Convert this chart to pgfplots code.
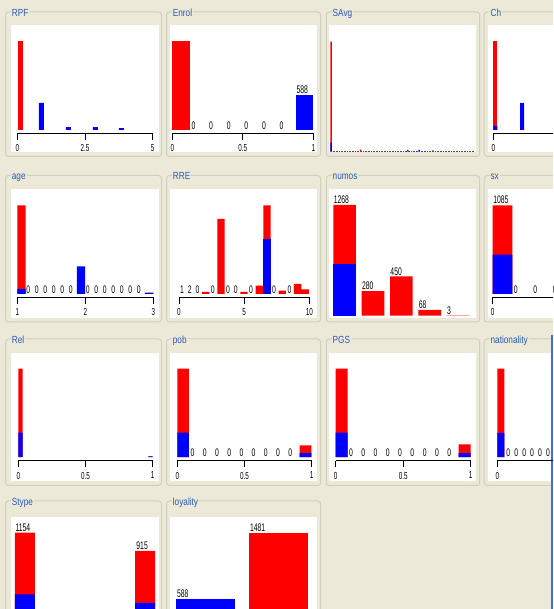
\documentclass[border=0pt]{standalone}
\usepackage{pgfplots}
\pgfplotsset{compat=1.18}
\usepackage{fontspec}
\setmainfont{Liberation Sans}
\newfontfamily\wkfont[FakeStretch=0.62]{Liberation Sans}
\newfontfamily\wtfont[FakeStretch=0.8]{Liberation Sans}
\newcommand\tkfont{\wkfont\fontsize{10.2}{10}\selectfont}
\newcommand\cnfont{\wkfont\fontsize{11}{11}\selectfont}
\newcommand\ttlfont{\wtfont\fontsize{10.3}{10}\selectfont}
\definecolor{wbg}{HTML}{ECE9D8}
\definecolor{wframe}{HTML}{D0D0BF}
\definecolor{wtitle}{HTML}{2A5AB5}
\definecolor{wred}{HTML}{FF0000}
\definecolor{wblue}{HTML}{0000FF}
\definecolor{wdot}{HTML}{5A3C8C}
\definecolor{wstripe}{HTML}{3C6EE6}
\pgfplotsset{
  numpanel/.style={scale only axis, clip=false, anchor=south west, height=92pt,
    axis y line=none, axis x line=bottom,
    x axis line style={-, line width=1.1pt, black},
    tick align=outside, major tick length=6.5pt,
    tick style={black, line width=0.8pt},
    xticklabel style={font=\tkfont, inner sep=1pt, yshift=-3.5pt},
    /pgf/number format/assume math mode=true,
    ytick=\empty},
  nompanel/.style={scale only axis, clip=false, anchor=south west, hide axis, ymin=0},
  rbar/.style={ybar, bar shift=0pt, bar width=#1, fill=wred, draw=none},
  bbar/.style={ybar, bar shift=0pt, bar width=#1, fill=wblue, draw=none},
  lbl/.style={draw=none, mark=none, nodes near coords={\pgfplotspointmeta},
    point meta=explicit symbolic,
    every node near coord/.style={font=\cnfont, anchor=south west, inner sep=0pt, text=black, yshift=#1}},
  lbl/.default=0pt,
}
\tikzset{ttl/.style={anchor=base west, fill=wbg, inner sep=1pt, text=wtitle, font=\ttlfont}}
\begin{document}
\begin{tikzpicture}
\useasboundingbox (0pt,0pt) rectangle (553pt,609pt);
\clip (0pt,0pt) rectangle (553pt,609pt);
\begin{scope}[x=1pt,y=1pt]
\fill[wbg] (0,0) rectangle (553,609);
% frames
\foreach \xa/\xb in {5.5/161.5,166.5/320.7,326.3/479.7,484.2/640}{
  \foreach \ya/\yb in {452.5/597,287/433.5,123.5/270}{
    \draw[wframe,line width=1pt,rounded corners=3pt] (\xa,\ya) rectangle (\xb,\yb);}}
\foreach \xa/\xb in {5.5/161.5,166.5/320.7}{
  \draw[wframe,line width=1pt,rounded corners=3pt] (\xa,-51) rectangle (\xb,108);}
% white plot areas
\foreach \xa/\xb in {11/159,170/317,329.3/476,488.3/640}{
  \foreach \ya/\yb in {457/584,290.7/419.5,128/255.7}{
    \fill[white] (\xa,\ya) rectangle (\xb,\yb);}}
\foreach \xa/\xb in {11/159,170/317}{\fill[white] (\xa,-41) rectangle (\xb,92.3);}
% titles
\node[ttl] at (10.7,592.5) {RPF};
\node[ttl] at (171.7,592.5) {Enrol};
\node[ttl] at (331.5,592.5) {SAvg};
\node[ttl] at (489.4,592.5) {Ch};
\node[ttl] at (10.7,429) {age};
\node[ttl] at (171.7,429) {RRE};
\node[ttl] at (331.5,429) {numos};
\node[ttl] at (489.4,429) {sx};
\node[ttl] at (10.7,265.5) {Rel};
\node[ttl] at (171.7,265.5) {pob};
\node[ttl] at (331.5,265.5) {PGS};
\node[ttl] at (489.4,265.5) {nationality};
\node[ttl] at (10.7,103.5) {Stype};
\node[ttl] at (171.7,103.5) {loyality};
\fill[wstripe] (551,0) rectangle (553,274);
\end{scope}

% RPF
\begin{axis}[numpanel, at={(17.3pt,475.5pt)}, width=135.4pt, xmin=0, xmax=5, xtick={0,2.5,5}, ymin=-58.6, ymax=1481]
\addplot[rbar=0.185] coordinates {(0.107,1481)};
\addplot[bbar=0.185] coordinates {(0.893,455) (1.89,50) (2.88,50) (3.845,33)};
\end{axis}
% Enrol
\begin{axis}[numpanel, at={(172.3pt,475.5pt)}, width=141pt, xmin=0, xmax=1, xtick={0,0.5,1}, ymin=-58.6, ymax=1481]
\addplot[rbar=0.125] coordinates {(0.0625,1481)};
\addplot[bbar=0.125] coordinates {(0.9375,588)};
\addplot[lbl] coordinates {(0.135,0)[0] (0.26,0)[0] (0.385,0)[0] (0.51,0)[0] (0.635,0)[0] (0.76,0)[0]};
\addplot[lbl=1pt] coordinates {(0.88,588)[588]};
\end{axis}
% SAvg
\begin{axis}[nompanel, at={(330pt,457.3pt)}, width=146pt, height=110pt, xmin=0, xmax=100, ymax=1940]
\addplot[rbar=1.0] coordinates {(0.7,1940) (21,36) (53.4,30) (70.5,25)};
\addplot[bbar=1.0] coordinates {(0.7,160) (61,30)};
\addplot[wdot, densely dotted, line width=0.6pt] coordinates {(0.7,0) (99,0)};
\end{axis}
% Ch
\begin{axis}[numpanel, at={(493.3pt,475.5pt)}, width=135.4pt, xmin=0, xmax=5, xtick={0,2.5,5}, ymin=-58.6, ymax=1481]
\addplot[rbar=0.148] coordinates {(0.074,1481)};
\addplot[bbar=0.148] coordinates {(0.074,67) (1.06,455)};
\end{axis}
% age
\begin{axis}[numpanel, at={(17.3pt,311.7pt)}, width=136pt, xmin=1, xmax=3, xtick={1,2,3}, ymin=-61.8, ymax=1563]
\addplot[rbar=0.1235] coordinates {(1.0625,1563) (2.9375,21)};
\addplot[bbar=0.1235] coordinates {(1.0625,85) (1.9375,485) (2.9375,18)};
\addplot[lbl] coordinates {(1.131,0)[0] (1.256,0)[0] (1.381,0)[0] (1.506,0)[0] (1.631,0)[0] (1.756,0)[0] (2.006,0)[0] (2.131,0)[0] (2.256,0)[0] (2.381,0)[0] (2.506,0)[0] (2.631,0)[0] (2.756,0)[0]};
\end{axis}
% RRE
\begin{axis}[numpanel, at={(179pt,311.7pt)}, width=130.3pt, xmin=0, xmax=10, xtick={0,5,10}, ymin=-37.3, ymax=944]
\addplot[rbar=0.56] coordinates {(2.045,20) (3.221,800) (4.986,20) (6.162,88) (6.750,944) (7.927,35) (9.104,107) (9.692,46)};
\addplot[bbar=0.56] coordinates {(6.750,580)};
\addplot[lbl] coordinates {(0.08,0)[1] (0.668,0)[2] (1.256,0)[0] (2.433,0)[0] (3.609,0)[0] (4.197,0)[0] (5.374,0)[0] (7.138,0)[0] (8.315,0)[0]};
\end{axis}
% numos
\begin{axis}[nompanel, at={(329.5pt,293.3pt)}, width=146.5pt, height=110.7pt, xmin=-0.534, xmax=4.634, ymax=1268]
\addplot[rbar=0.8] coordinates {(0,1268) (1,280) (2,450) (3,68) (4,3)};
\addplot[bbar=0.8] coordinates {(0,588)};
\addplot[lbl=1pt] coordinates {(-0.39,1268)[1268] (0.61,280)[280] (1.61,450)[450] (2.61,68)[68] (3.61,3)[3]};
\end{axis}
% sx
\begin{axis}[numpanel, at={(492.7pt,311.7pt)}, width=136pt, xmin=0, xmax=1, xtick={0,0.5,1}, ymin=-42.9, ymax=1085]
\addplot[rbar=0.144] coordinates {(0.072,1085) (0.929,984)};
\addplot[bbar=0.144] coordinates {(0.072,479) (0.929,109)};
\addplot[lbl] coordinates {(0.155,0)[0] (0.298,0)[0] (0.441,0)[0] (0.583,0)[0] (0.726,0)[0]};
\addplot[lbl=1pt] coordinates {(0.003,1085)[1085] (0.86,984)[984]};
\end{axis}
% Rel
\begin{axis}[numpanel, at={(18.3pt,148.3pt)}, width=134.4pt, xmin=0, xmax=1, xtick={0,0.5,1}, ymin=-81, ymax=2048]
\addplot[rbar=0.0327] coordinates {(0.0164,2048) (0.9836,21)};
\addplot[bbar=0.0327] coordinates {(0.0164,570) (0.9836,18)};
\end{axis}
% pob
\begin{axis}[numpanel, at={(177.3pt,148.3pt)}, width=134.4pt, xmin=0, xmax=1, xtick={0,0.5,1}, ymin=-72.3, ymax=1827]
\addplot[rbar=0.087] coordinates {(0.0435,1827) (0.9545,242)};
\addplot[bbar=0.087] coordinates {(0.0435,505) (0.9545,83)};
\addplot[lbl] coordinates {(0.0979,0)[0] (0.1888,0)[0] (0.2797,0)[0] (0.3706,0)[0] (0.4615,0)[0] (0.5524,0)[0] (0.6433,0)[0] (0.7342,0)[0] (0.8251,0)[0]};
\end{axis}
% PGS
\begin{axis}[numpanel, at={(335.7pt,148.3pt)}, width=135pt, xmin=0, xmax=1, xtick={0,0.5,1}, ymin=-71.5, ymax=1809]
\addplot[rbar=0.089] coordinates {(0.0444,1809) (0.9556,260)};
\addplot[bbar=0.089] coordinates {(0.0444,504) (0.9556,84)};
\addplot[lbl] coordinates {(0.0979,0)[0] (0.1888,0)[0] (0.2797,0)[0] (0.3706,0)[0] (0.4615,0)[0] (0.5524,0)[0] (0.6433,0)[0] (0.7342,0)[0] (0.8251,0)[0]};
\end{axis}
% nationality
\begin{axis}[numpanel, at={(497.3pt,148.3pt)}, width=135pt, xmin=0, xmax=1, xtick={0,0.5,1}, ymin=-80.7, ymax=2040]
\addplot[rbar=0.0519] coordinates {(0.0259,2040) (0.967,29)};
\addplot[bbar=0.0519] coordinates {(0.0259,563) (0.967,25)};
\addplot[lbl] coordinates {(0.0658,0)[0] (0.1246,0)[0] (0.1835,0)[0] (0.2423,0)[0] (0.3011,0)[0] (0.3599,0)[0] (0.4188,0)[0] (0.4776,0)[0] (0.5364,0)[0] (0.5952,0)[0] (0.6541,0)[0] (0.7129,0)[0] (0.7717,0)[0] (0.8305,0)[0] (0.8894,0)[0]};
\end{axis}
% Stype
\begin{axis}[numpanel, at={(15pt,-15.6pt)}, width=140pt, xmin=0, xmax=1, xtick={0,0.5,1}, ymin=-45.6, ymax=1154]
\addplot[rbar=0.1429] coordinates {(0.0714,1154) (0.9286,915)};
\addplot[bbar=0.1429] coordinates {(0.0714,350) (0.9286,238)};
\addplot[lbl] coordinates {(0.153,0)[0] (0.296,0)[0] (0.439,0)[0] (0.582,0)[0] (0.724,0)[0]};
\addplot[lbl=1pt] coordinates {(0.003,1154)[1154] (0.866,915)[915]};
\end{axis}
% loyality
\begin{axis}[nompanel, at={(170pt,-33.8pt)}, width=147pt, height=110.2pt, xmin=-0.491, xmax=1.523, ymax=1481]
\addplot[rbar=0.804] coordinates {(1,1481)};
\addplot[bbar=0.804] coordinates {(0,588)};
\addplot[lbl=1pt] coordinates {(-0.397,588)[588] (0.603,1481)[1481]};
\end{axis}
\end{tikzpicture}
\end{document}
